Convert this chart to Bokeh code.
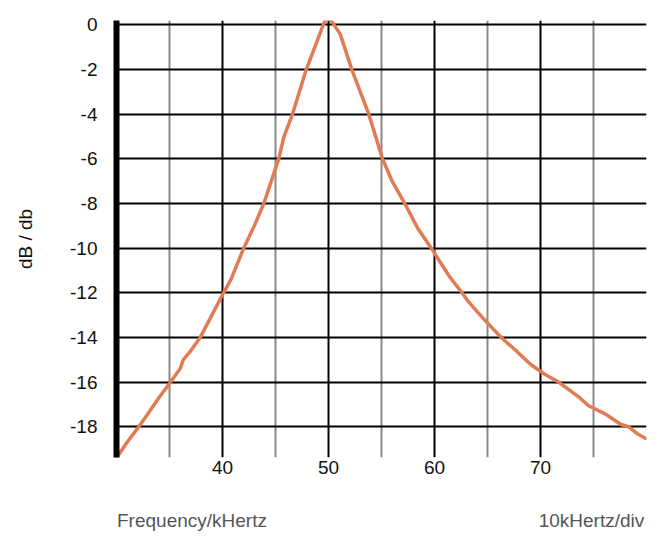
from bokeh.plotting import figure
from bokeh.models import FixedTicker, Range1d, LinearAxis
from bokeh.embed import file_html
from bokeh.resources import INLINE

# Frequency (kHz) and response (dB)
freq = [30, 31, 32.1, 33, 34, 35.1, 36, 36.3, 37, 37.9, 39, 40.1, 40.8, 42, 43, 43.9,
        45.3, 45.8, 46.6, 47.9, 48.7, 49.5, 49.8, 50.1, 51.1, 52.2, 53.8, 55.1, 56,
        57.2, 58.4, 59.7, 60.5, 61.45, 62.6, 63.2, 64.5, 66.3, 67.7, 69.05, 70.4,
        71.7, 73.7, 74.5, 76, 77.6, 78.3, 79.1, 80]
db = [-19.4, -18.7, -18.0, -17.4, -16.7, -16.0, -15.4, -15.0, -14.6, -14.0, -13.0,
      -12.0, -11.4, -10.0, -9.0, -8.0, -6.0, -5.0, -4.0, -2.0, -1.0, 0.0, 0.3, 0.3,
      -0.4, -2.0, -4.0, -6.0, -7.0, -8.0, -9.1, -10.0, -10.6, -11.3, -12.0, -12.4,
      -13.1, -14.0, -14.6, -15.2, -15.65, -16.0, -16.7, -17.05, -17.4, -17.9, -18.0,
      -18.3, -18.55]

x_major = [40, 50, 60, 70]
x_minor = [35, 45, 55, 65, 75]
y_ticks = [0, -2, -4, -6, -8, -10, -12, -14, -16, -18]
y_tick_labels = ["0", "-2", "-4", "-6", "-8", "-10", "-12", "-14", "-16", "-18"]
x_title = "Frequency/kHertz"
x_scale_note = "10kHertz/div"
y_title = "dB / db"

FONT = "Liberation Sans"
FS = "19px"

p = figure(width=659, height=542, output_backend="svg", toolbar_location=None,
           x_range=Range1d(30, 80), y_range=Range1d(-19.38, 0.2),
           min_border_left=116, min_border_right=13, min_border_top=20,
           min_border_bottom=85)
p.outline_line_color = None
p.background_fill_color = "white"
p.border_fill_color = "white"

# x axis (tick labels only)
p.xaxis.ticker = FixedTicker(ticks=x_major)
p.xaxis.axis_line_color = None
p.xaxis.major_tick_line_color = None
p.xaxis.minor_tick_line_color = None
p.xaxis.major_label_text_font = FONT
p.xaxis.major_label_text_font_size = FS
p.xaxis.major_label_text_color = "#111111"
p.xaxis.major_label_standoff = -3

# y axis: thick black spine
p.yaxis.ticker = FixedTicker(ticks=y_ticks)
p.yaxis.major_label_overrides = dict(zip(y_ticks, y_tick_labels))
p.yaxis.axis_line_color = "black"
p.yaxis.axis_line_width = 6
p.yaxis.major_tick_line_color = None
p.yaxis.minor_tick_line_color = None
p.yaxis.major_label_text_font = FONT
p.yaxis.major_label_text_font_size = FS
p.yaxis.major_label_text_color = "#111111"
p.yaxis.major_label_standoff = 13
p.yaxis.axis_label = y_title
p.yaxis.axis_label_text_font = FONT
p.yaxis.axis_label_text_font_size = FS
p.yaxis.axis_label_text_font_style = "normal"
p.yaxis.axis_label_text_color = "#111111"
p.yaxis.axis_label_standoff = 31

# bottom captions: an extra tick-label-only axis below (labels centred on ticks)
cap_ticks = [37.12, 74.81]
cap_axis = LinearAxis(ticker=FixedTicker(ticks=cap_ticks),
                      major_label_overrides={37.12: x_title, 74.81: x_scale_note})
cap_axis.axis_line_color = None
cap_axis.major_tick_line_color = None
cap_axis.minor_tick_line_color = None
cap_axis.major_label_text_font = FONT
cap_axis.major_label_text_font_size = FS
cap_axis.major_label_text_color = "#555555"
cap_axis.major_label_standoff = 27
p.add_layout(cap_axis, "below")

# grids
p.xgrid.ticker = FixedTicker(ticks=x_major, minor_ticks=x_minor)
p.xgrid.grid_line_color = "black"
p.xgrid.grid_line_width = 2
p.xgrid.minor_grid_line_color = "#888888"
p.xgrid.minor_grid_line_width = 2
p.ygrid.ticker = FixedTicker(ticks=y_ticks)
p.ygrid.grid_line_color = "black"
p.ygrid.grid_line_width = 2

p.line(freq, db, line_color="#E07B53", line_width=3.5)

open("out.html", "w").write(file_html(p, INLINE))
